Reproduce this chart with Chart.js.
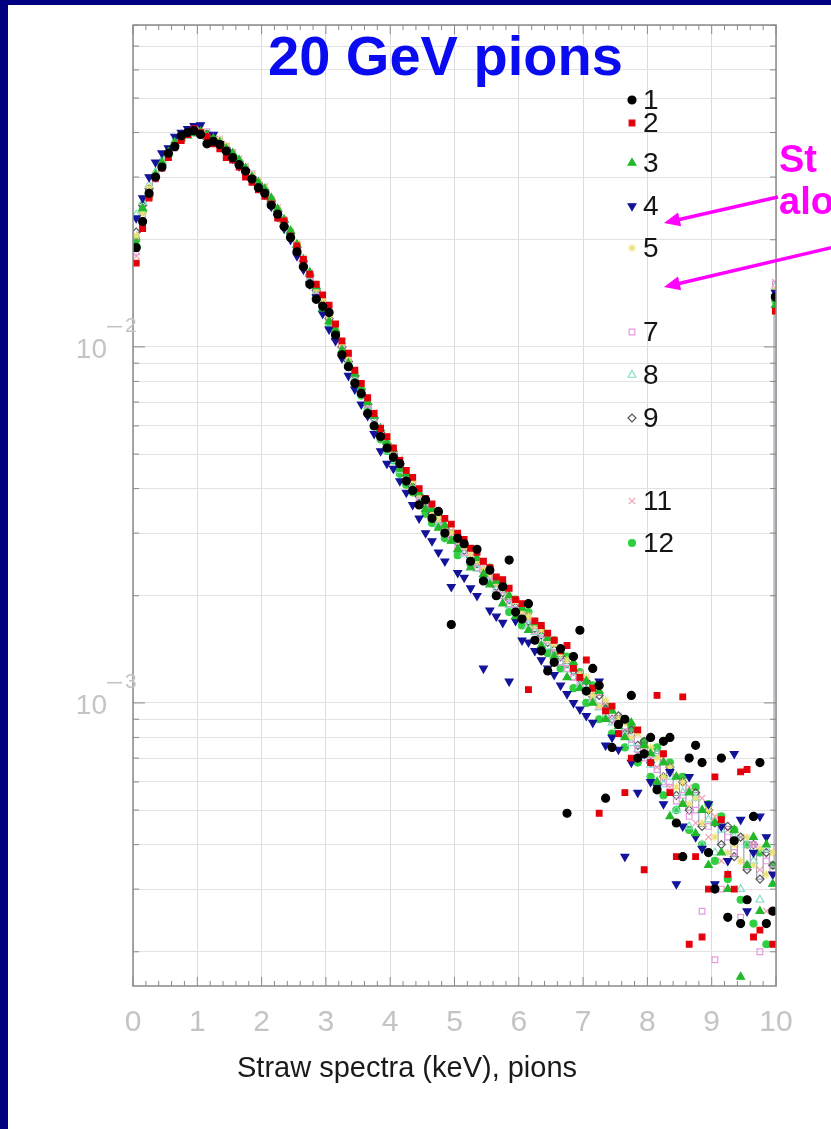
<!DOCTYPE html>
<html>
<head>
<meta charset="utf-8">
<title>Straw spectra, 20 GeV pions</title>
<script src="https://cdn.jsdelivr.net/npm/chart.js@4.4.1/dist/chart.umd.min.js"></script>
<style>
  html, body { margin: 0; padding: 0; background: #fff; }
  #wrap { position: relative; width: 831px; height: 1129px; }
</style>
</head>
<body>
<div id="wrap"><canvas id="spectra" width="831" height="1129"></canvas></div>
<script>
// bin centres, keV
const binCenters = [
  0.05, 0.15, 0.25, 0.35, 0.45, 0.55, 0.65, 0.75, 0.85, 0.95,
  1.05, 1.15, 1.25, 1.35, 1.45, 1.55, 1.65, 1.75, 1.85, 1.95,
  2.05, 2.15, 2.25, 2.35, 2.45, 2.55, 2.65, 2.75, 2.85, 2.95,
  3.05, 3.15, 3.25, 3.35, 3.45, 3.55, 3.65, 3.75, 3.85, 3.95,
  4.05, 4.15, 4.25, 4.35, 4.45, 4.55, 4.65, 4.75, 4.85, 4.95,
  5.05, 5.15, 5.25, 5.35, 5.45, 5.55, 5.65, 5.75, 5.85, 5.95,
  6.05, 6.15, 6.25, 6.35, 6.45, 6.55, 6.65, 6.75, 6.85, 6.95,
  7.05, 7.15, 7.25, 7.35, 7.45, 7.55, 7.65, 7.75, 7.85, 7.95,
  8.05, 8.15, 8.25, 8.35, 8.45, 8.55, 8.65, 8.75, 8.85, 8.95,
  9.05, 9.15, 9.25, 9.35, 9.45, 9.55, 9.65, 9.75, 9.85, 9.95
];

const seriesNames = ['1', '2', '3', '4', '5', '7', '8', '9', '11', '12'];

const straw1 = [
  .0190, .0225, .0270, .0300, .0320, .0350, .0365, .0392, .0400, .0405,
  .0395, .0372, .0378, .0370, .0355, .0340, .0325, .0312, .0296, .0280,
  .0270, .0250, .0236, .0218, .0203, .0185, .0168, .0150, .0136, .0130,
  .0125, .0108, .0095, .00880, .00790, .00740, .00650, .00600, .00560, .00520,
  .00490, .00470, .00420, .00395, .00360, .00372, .00330, .00345, .00300, .00166,
  .00290, .00280, .00250, .00270, .00220, .00236, .00200, .00212, .00252, .00180,
  .00172, .00190, .00150, .00140, .00123, .00130, .00142, .00049, .00135, .00160,
  .00108, .00125, .00112, .00054, .00075, .00087, .00090, .00105, .00070, .00072,
  .00080, .00057, .00078, .00080, .00046, .00037, .00070, .00076, .00068, .00038,
  .00030, .00070, .00025, .00041, .00024, .00028, .00048, .00068, .00024, .00026
];
const straw2 = [
  .0172, .0215, .0262, .0298, .0318, .0340, .0368, .0380, .0395, .0410,
  .0400, .0390, .0372, .0360, .0340, .0335, .0320, .0300, .0290, .0276,
  .0265, .0252, .0230, .0226, .0205, .0192, .0176, .0160, .0150, .0140,
  .0131, .0116, .0104, .00960, .00860, .00790, .00720, .00650, .00590, .00560,
  .00520, .00480, .00450, .00430, .00400, .00375, .00362, .00345, .00330, .00318,
  .00300, .00288, .00272, .00265, .00250, .00240, .00226, .00222, .00210, .00195,
  .00190, .00109, .00170, .00165, .00157, .00150, .00140, .00145, .00125, .00118,
  .00132, .00110, .00049, .00095, .00098, .00082, .00056, .00070, .00084, .00034,
  .00068, .00105, .00072, .00056, .00037, .00104, .00021, .00037, .00022, .00030,
  .00062, .00047, .00033, .00030, .00064, .00065, .00022, .00023, .00024, .00021
];
const straw3 = [
  .0195, .0245, .0270, .0305, .0330, .0352, .0375, .0385, .0392, .0398,
  .0402, .0392, .0385, .0375, .0360, .0350, .0335, .0318, .0300, .0290,
  .0278, .0262, .0244, .0228, .0212, .0194, .0176, .0162, .0148, .0128,
  .0118, .0112, .0098, .00900, .00840, .00770, .00700, .00640, .00590, .00540,
  .00515, .00455, .00440, .00400, .00390, .00350, .00350, .00310, .00315, .00285,
  .00270, .00278, .00240, .00255, .00230, .00215, .00220, .00190, .00200, .00175,
  .00185, .00160, .00168, .00145, .00152, .00135, .00140, .00118, .00130, .00110,
  .00115, .00100, .00108, .00090, .00095, .00086, .00080, .00088, .00070, .00076,
  .00072, .00060, .00068, .00048, .00062, .00052, .00056, .00043, .00050, .00035,
  .00046, .00038, .00030, .00044, .00017, .00035, .00042, .00026, .00040, .00031
];
const straw4 = [
  .0230, .0262, .0300, .0330, .0350, .0362, .0390, .0400, .0410, .0418,
  .0420, .0385, .0395, .0372, .0352, .0338, .0322, .0310, .0295, .0280,
  .0268, .0248, .0232, .0215, .0200, .0180, .0165, .0150, .0138, .0124,
  .0112, .0104, .0093, .00830, .00760, .00690, .00640, .00570, .00510, .00470,
  .00455, .00420, .00390, .00360, .00330, .00300, .00285, .00265, .00250, .00212,
  .00232, .00225, .00210, .00200, .00125, .00182, .00175, .00168, .00115, .00170,
  .00150, .00148, .00140, .00132, .00125, .00120, .00112, .00106, .00100, .00096,
  .00092, .00088, .00115, .00076, .00080, .00074, .00037, .00068, .00056, .00072,
  .00060, .00058, .00052, .00064, .00031, .00045, .00062, .00042, .00039, .00052,
  .00031, .00045, .00036, .00072, .00047, .00026, .00038, .00048, .00042, .00033
];
const straw5 = [
  .0205, .0238, .0280, .0306, .0328, .0345, .0370, .0392, .0402, .0400,
  .0410, .0395, .0392, .0382, .0368, .0345, .0335, .0320, .0305, .0292,
  .0280, .0260, .0245, .0222, .0212, .0196, .0178, .0160, .0146, .0136,
  .0122, .0112, .0102, .00930, .00850, .00780, .00700, .00650, .00580, .00550,
  .00510, .00480, .00440, .00420, .00385, .00370, .00345, .00330, .00312, .00300,
  .00285, .00275, .00262, .00250, .00238, .00230, .00218, .00210, .00200, .00192,
  .00180, .00175, .00165, .00160, .00150, .00146, .00138, .00132, .00128, .00120,
  .00118, .00105, .00098, .00102, .00095, .00090, .00088, .00080, .00082, .00072,
  .00075, .00070, .00062, .00066, .00058, .00060, .00052, .00054, .00046, .00050,
  .00042, .00046, .00038, .00040, .00036, .00042, .00035, .00039, .00033, .00038
];
const straw7 = [
  .0185, .0235, .0268, .0296, .0322, .0342, .0362, .0385, .0396, .0412,
  .0398, .0402, .0382, .0378, .0366, .0352, .0328, .0318, .0306, .0285,
  .0272, .0258, .0242, .0226, .0210, .0188, .0172, .0156, .0144, .0134,
  .0122, .0108, .0101, .00920, .00840, .00750, .00690, .00620, .00580, .00530,
  .00500, .00470, .00430, .00410, .00370, .00365, .00330, .00320, .00305, .00290,
  .00275, .00265, .00255, .00240, .00236, .00220, .00210, .00200, .00190, .00182,
  .00175, .00168, .00160, .00150, .00150, .00138, .00130, .00125, .00118, .00114,
  .00108, .00104, .00098, .00095, .00090, .00087, .00083, .00079, .00074, .00070,
  .00069, .00065, .00060, .00058, .00053, .00055, .00048, .00050, .00026, .00045,
  .00019, .00030, .00042, .00038, .00025, .00035, .00040, .00020, .00036, .00034
];
const straw8 = [
  .0235, .0255, .0285, .0310, .0335, .0352, .0380, .0395, .0400, .0405,
  .0395, .0388, .0385, .0378, .0358, .0342, .0328, .0312, .0298, .0284,
  .0272, .0254, .0238, .0220, .0206, .0188, .0172, .0154, .0140, .0128,
  .0116, .0106, .0097, .00890, .00810, .00740, .00670, .00610, .00560, .00510,
  .00480, .00450, .00420, .00400, .00370, .00350, .00330, .00315, .00300, .00285,
  .00270, .00262, .00250, .00238, .00228, .00218, .00208, .00200, .00188, .00180,
  .00172, .00165, .00158, .00150, .00144, .00136, .00130, .00124, .00118, .00112,
  .00108, .00102, .00097, .00093, .00088, .00085, .00081, .00077, .00074, .00071,
  .00067, .00072, .00059, .00062, .00050, .00056, .00045, .00054, .00040, .00047,
  .00038, .00044, .00033, .00042, .00030, .00040, .00036, .00028, .00039, .00031
];
const straw9 = [
  .0210, .0250, .0278, .0300, .0326, .0350, .0368, .0386, .0400, .0402,
  .0404, .0396, .0388, .0376, .0362, .0346, .0332, .0314, .0300, .0288,
  .0276, .0256, .0240, .0224, .0208, .0190, .0174, .0158, .0144, .0132,
  .0120, .0110, .0100, .00910, .00830, .00760, .00690, .00630, .00575, .00535,
  .00500, .00470, .00435, .00405, .00380, .00362, .00340, .00322, .00308, .00295,
  .00282, .00268, .00256, .00246, .00234, .00224, .00212, .00204, .00195, .00186,
  .00178, .00170, .00162, .00155, .00148, .00141, .00135, .00129, .00123, .00117,
  .00115, .00104, .00105, .00096, .00090, .00092, .00082, .00084, .00076, .00078,
  .00068, .00072, .00062, .00066, .00055, .00060, .00050, .00056, .00045, .00050,
  .00046, .00040, .00045, .00037, .00042, .00034, .00040, .00032, .00038, .00035
];
const straw11 = [
  .0180, .0228, .0272, .0304, .0325, .0355, .0378, .0390, .0392, .0403,
  .0410, .0394, .0380, .0384, .0366, .0350, .0338, .0322, .0304, .0292,
  .0282, .0260, .0246, .0228, .0208, .0194, .0178, .0162, .0147, .0136,
  .0124, .0114, .0103, .00940, .00860, .00780, .00710, .00655, .00595, .00555,
  .00520, .00485, .00450, .00420, .00395, .00375, .00355, .00335, .00320, .00305,
  .00292, .00278, .00265, .00252, .00242, .00232, .00220, .00212, .00200, .00194,
  .00184, .00176, .00168, .00160, .00152, .00146, .00140, .00132, .00127, .00121,
  .00116, .00110, .00106, .00100, .00096, .00092, .00088, .00080, .00082, .00074,
  .00074, .00066, .00070, .00058, .00062, .00052, .00058, .00046, .00054, .00042,
  .00048, .00036, .00044, .00030, .00042, .00028, .00040, .00034, .00026, .00038
];
const straw12 = [
  .0200, .0240, .0265, .0298, .0322, .0345, .0372, .0386, .0396, .0402,
  .0400, .0396, .0383, .0372, .0360, .0344, .0326, .0310, .0298, .0282,
  .0270, .0255, .0236, .0220, .0206, .0186, .0170, .0152, .0140, .0126,
  .0114, .0106, .0096, .00880, .00800, .00730, .00670, .00600, .00550, .00510,
  .00480, .00440, .00410, .00390, .00360, .00340, .00320, .00340, .00290, .00300,
  .00260, .00280, .00245, .00250, .00222, .00240, .00200, .00215, .00180, .00195,
  .00165, .00180, .00150, .00160, .00138, .00150, .00125, .00135, .00110, .00122,
  .00100, .00112, .00090, .00098, .00082, .00090, .00075, .00085, .00068, .00078,
  .00062, .00075, .00055, .00068, .00050, .00062, .00044, .00058, .00040, .00052,
  .00036, .00048, .00032, .00044, .00028, .00040, .00024, .00038, .00021, .00035
];

// overflow entries drawn on the right edge
const overflow = [0.0138, 0.0126, 0.0131, 0.0142, 0.0145, 0.0150, 0.0148, 0.0140, 0.0152, 0.0135];

const seriesValues = [straw1, straw2, straw3, straw4, straw5, straw7, straw8, straw9, straw11, straw12];

const xTickLabels = ['0', '1', '2', '3', '4', '5', '6', '7', '8', '9', '10'];
const yGridValues = [
  2e-4, 3e-4, 4e-4, 5e-4, 6e-4, 7e-4, 8e-4, 9e-4,
  1e-3, 2e-3, 3e-3, 4e-3, 5e-3, 6e-3, 7e-3, 8e-3, 9e-3,
  1e-2, 2e-2, 3e-2, 4e-2, 5e-2, 6e-2, 7e-2, 8e-2
];
const yDecades = [1e-3, 1e-2];
const yDecadeExp = ['3', '2'];

const yMin = 1.603e-4;
const yMax = 0.0802;

// marker look for each series
const markers = [
    { color: '#000000', fill: '#000000', style: 'circle',   rot: 0,   r: 4 },
    { color: '#e3000b', fill: '#e3000b', style: 'rect',     rot: 0,   r: 4 },
    { color: '#22b82a', fill: '#22b82a', style: 'triangle', rot: 0,   r: 4.5 },
    { color: '#13139a', fill: '#13139a', style: 'triangle', rot: 180, r: 4.5 },
    { color: '#ece27a', fill: '#ece27a', style: 'star',     rot: 0,   r: 4 },
    { color: '#e59ae0', fill: 'rgba(0,0,0,0)', style: 'rect', rot: 0, r: 4 },
    { color: '#86dcc6', fill: 'rgba(0,0,0,0)', style: 'triangle', rot: 0, r: 4.5 },
    { color: '#555555', fill: 'rgba(0,0,0,0)', style: 'rectRot', rot: 0, r: 4 },
    { color: '#f3a0b2', fill: '#f3a0b2', style: 'crossRot', rot: 0,   r: 4.5 },
    { color: '#2fd040', fill: '#2fd040', style: 'circle',   rot: 0,   r: 3.5 }
];

// legend rows (pixel y), 6 and 10 are left empty like in the slide
const legendRows = [100, 123, 163, 206, 248, 332, 375, 418, 501, 543];

const datasets = seriesNames.map((name, i) => {
    let pts = binCenters.map((x, j) => ({ x: x, y: seriesValues[i][j] }));
    pts.push({ x: 9.99, y: overflow[i] });
    return {
        label           : name,
        data            : pts,
        pointStyle      : markers[i].style,
        rotation        : markers[i].rot,
        pointRadius     : markers[i].r,
        backgroundColor : markers[i].fill,
        pointBorderColor: markers[i].color,
        borderColor     : '#8c8ca4',
        borderWidth     : 1,
        pointBorderWidth: 1.2,
        showLine        : name === '9',
        stepped         : 'middle'
    };
});

function arrow(ctx, x1, y1, x2, y2) {
    let a = Math.atan2(y2 - y1, x2 - x1);
    ctx.beginPath();
    ctx.moveTo(x1, y1);
    ctx.lineTo(x2 - 10 * Math.cos(a), y2 - 10 * Math.sin(a));
    ctx.stroke();
    ctx.beginPath();
    ctx.moveTo(x2, y2);
    ctx.lineTo(x2 - 16 * Math.cos(a) + 7 * Math.sin(a), y2 - 16 * Math.sin(a) - 7 * Math.cos(a));
    ctx.lineTo(x2 - 16 * Math.cos(a) - 7 * Math.sin(a), y2 - 16 * Math.sin(a) + 7 * Math.cos(a));
    ctx.closePath();
    ctx.fill();
}

const slidePlugin = {
    id: 'slide',
    beforeDraw(chart) {
        const ctx = chart.ctx;
        ctx.save();
        ctx.fillStyle = '#ffffff';
        ctx.fillRect(0, 0, chart.width, chart.height);
        ctx.fillStyle = '#000080';
        ctx.fillRect(0, 0, chart.width, 5);
        ctx.fillRect(0, 0, 8, chart.height);
        ctx.restore();
    },
    afterDraw(chart) {
        const ctx = chart.ctx;
        const area = chart.chartArea;
        const xs = chart.scales.x;
        const ys = chart.scales.y;
        ctx.save();

        // frame
        ctx.strokeStyle = '#8a8a8a';
        ctx.lineWidth = 1.5;
        ctx.strokeRect(area.left, area.top, area.right - area.left, area.bottom - area.top);

        // tick marks on the four sides
        ctx.lineWidth = 1;
        ctx.beginPath();
        for (let k = 0; k <= 50; k++) {
            let px = xs.getPixelForValue(k * 0.2);
            let len = (k % 5 === 0) ? 9 : 5;
            ctx.moveTo(px, area.bottom); ctx.lineTo(px, area.bottom - len);
            ctx.moveTo(px, area.top);    ctx.lineTo(px, area.top + len);
        }
        yGridValues.forEach(v => {
            let py = ys.getPixelForValue(v);
            let len = yDecades.includes(v) ? 12 : 6;
            ctx.moveTo(area.left, py);  ctx.lineTo(area.left + len, py);
            ctx.moveTo(area.right, py); ctx.lineTo(area.right - len, py);
        });
        ctx.stroke();

        // x tick labels
        ctx.fillStyle = '#c4c4c4';
        ctx.font = '30px "Liberation Sans", Arial, sans-serif';
        ctx.textAlign = 'center';
        ctx.textBaseline = 'alphabetic';
        xTickLabels.forEach((t, i) => {
            ctx.fillText(t, xs.getPixelForValue(i), 1031);
        });

        // y decade labels 10^-n
        yDecades.forEach((v, i) => {
            let py = ys.getPixelForValue(v);
            ctx.font = '28px "Liberation Sans", Arial, sans-serif';
            ctx.textAlign = 'right';
            ctx.fillText('10', 107, py + 11);
            ctx.textAlign = 'left';
            ctx.font = '21px "Liberation Sans", Arial, sans-serif';
            ctx.fillRect(107, py - 21, 15, 1.6);
            ctx.fillText(yDecadeExp[i], 125, py - 15);
        });

        // axis title
        ctx.fillStyle = '#1a1a1a';
        ctx.font = '29px "Liberation Sans", Arial, sans-serif';
        ctx.textAlign = 'left';
        ctx.fillText('Straw spectra (keV), pions', 237, 1077, 373);

        // legend
        ctx.textBaseline = 'middle';
        ctx.font = '28px "Liberation Sans", Arial, sans-serif';
        seriesNames.forEach((name, i) => {
            let y = legendRows[i];
            ctx.fillStyle = markers[i].fill;
            ctx.strokeStyle = markers[i].color;
            ctx.lineWidth = 1.2;
            Chart.helpers.drawPoint(ctx, {
                pointStyle : markers[i].style,
                rotation   : markers[i].rot,
                radius     : markers[i].r,
                borderWidth: 1.2
            }, 632, y);
            ctx.fillStyle = '#151515';
            ctx.fillText(name, 643, y + 1);
        });

        // title
        ctx.textBaseline = 'alphabetic';
        ctx.fillStyle = '#0b0bef';
        ctx.font = 'bold 56px "Liberation Sans", Arial, sans-serif';
        ctx.fillText('20 GeV pions', 268, 75);

        // magenta annotation, cut off by the slide edge
        ctx.fillStyle = '#ff00ff';
        ctx.strokeStyle = '#ff00ff';
        ctx.font = 'bold 38px "Liberation Sans", Arial, sans-serif';
        ctx.fillText('St', 779, 172);
        ctx.fillText('alo', 779, 214);
        ctx.lineWidth = 3.5;
        arrow(ctx, 778, 197, 664, 223);
        arrow(ctx, 834, 247, 664, 287);

        ctx.restore();
    }
};

new Chart(document.getElementById('spectra'), {
    type: 'scatter',
    data: { datasets: datasets },
    options: {
        responsive      : false,
        animation       : false,
        devicePixelRatio: 1,
        layout: { padding: { left: 133, right: 55, top: 25, bottom: 143 } },
        elements: { line: { tension: 0 } },
        plugins: {
            legend : { display: false },
            tooltip: { enabled: false }
        },
        scales: {
            x: {
                type  : 'linear',
                min   : 0,
                max   : 10,
                ticks : { display: false, stepSize: 1 },
                grid  : { color: '#dcdcdc', drawTicks: false },
                border: { display: false }
            },
            y: {
                type  : 'logarithmic',
                min   : yMin,
                max   : yMax,
                afterBuildTicks: scale => {
                    scale.ticks = yGridValues.map(v => ({ value: v }));
                },
                ticks : { display: false },
                grid  : { color: '#e2e2e2', drawTicks: false },
                border: { display: false }
            }
        }
    },
    plugins: [slidePlugin]
});
</script>
</body>
</html>
